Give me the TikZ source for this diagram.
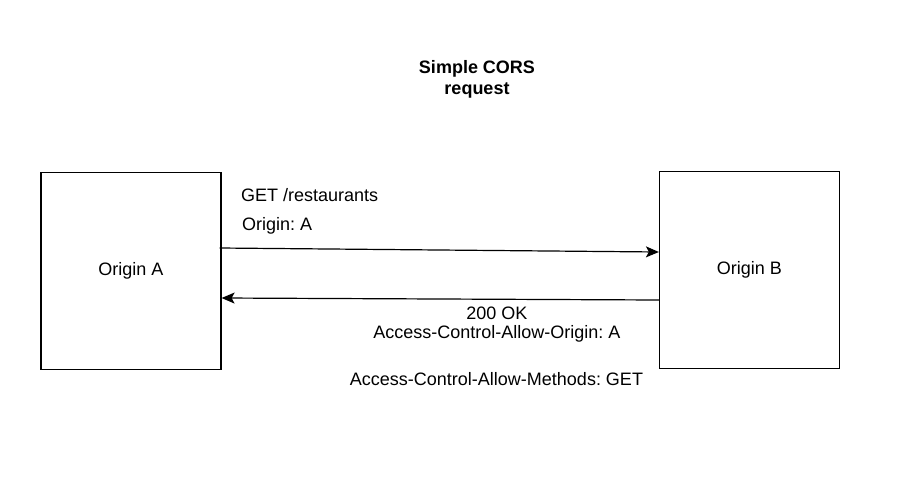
\documentclass[tikz,border=0pt]{standalone}
\usepackage{fontspec}
\setmainfont{Liberation Sans}
\frenchspacing
\usetikzlibrary{arrows.meta,positioning}

\begin{document}
\begin{tikzpicture}[x=1pt,y=-1pt,
    box/.style={draw,line width=1.2pt,minimum width=180pt,minimum height=197pt,inner sep=0pt,font=\fontsize{18}{21}\selectfont},
    lbl/.style={inner sep=0pt,font=\fontsize{18}{21}\selectfont},
    msg/.style={line width=1.2pt,-{Stealth[length=13pt,width=11pt,inset=3pt]}}]
        \useasboundingbox (0,0) rectangle (914,480);

        % title
        \node[lbl,font=\fontsize{18}{21}\selectfont\bfseries,align=center] (title) at (477,79) {Simple CORS\\request};

        % origins
        \node[box] (originA) at (131,271) {Origin A};
        \node[box] (originB) at (749.5,270) {Origin B};

        % request and response
        \draw[msg] ([yshift=23pt,xshift=-2pt]originA.east) -- ([yshift=18pt]originB.west);
        \draw[msg] ([yshift=-30pt]originB.west) -- ([yshift=-27pt]originA.east);

        % labels
        \node[lbl,anchor=west] (req) at (241,195) {GET /restaurants};
        \node[lbl,anchor=west] (hdr) at (242,226) {Origin: A};
        \node[lbl] (ok) at (497,313) {200 OK};
        \node[lbl] (acao) at (497,334) {Access-Control-Allow-Origin: A};
        \node[lbl] (acam) at (496.5,379) {Access-Control-Allow-Methods: GET};
    \end{tikzpicture}
\end{document}
